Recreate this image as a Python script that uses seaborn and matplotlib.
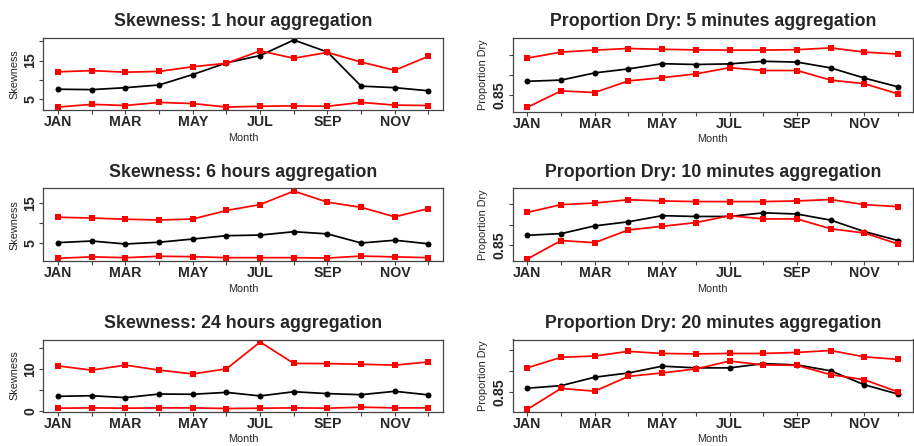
import numpy as np
import pandas as pd
import matplotlib
matplotlib.use("Agg")
import matplotlib.pyplot as plt
import seaborn as sns

sns.set_style("white")
plt.rcParams["font.family"] = ["Liberation Sans", "DejaVu Sans"]

months = ["JAN", "FEB", "MAR", "APR", "MAY", "JUN",
          "JUL", "AUG", "SEP", "OCT", "NOV", "DEC"]
month_num = list(range(1, 13))

# Skewness, 1 hour aggregation
skew_1h_mid = [7.6, 7.5, 8.0, 8.7, 11.4, 14.4, 16.3, 20.3, 17.2, 8.4, 8.0, 7.2]
skew_1h_hi = [12.1, 12.4, 12.0, 12.2, 13.4, 14.3, 17.5, 15.6, 17.1, 14.6, 12.5, 16.1]
skew_1h_lo = [3.0, 3.7, 3.4, 4.2, 3.9, 3.0, 3.2, 3.3, 3.2, 4.2, 3.5, 3.4]

# Skewness, 6 hours aggregation
skew_6h_mid = [5.1, 5.5, 4.75, 5.2, 6.0, 6.85, 7.0, 7.85, 7.3, 5.0, 5.7, 4.8]
skew_6h_hi = [11.5, 11.3, 11.0, 10.8, 11.05, 13.2, 14.7, 18.1, 15.3, 14.0, 11.6, 13.7]
skew_6h_lo = [1.15, 1.5, 1.3, 1.65, 1.55, 1.3, 1.3, 1.3, 1.2, 1.7, 1.5, 1.3]

# Skewness, 24 hours aggregation
skew_24h_mid = [3.46, 3.6, 3.15, 4.0, 3.95, 4.4, 3.55, 4.55, 4.1, 3.85, 4.65, 3.8]
skew_24h_hi = [10.7, 9.7, 10.9, 9.7, 8.8, 10.0, 16.4, 11.3, 11.26, 11.1, 10.9, 11.65]
skew_24h_lo = [0.63, 0.7, 0.63, 0.7, 0.7, 0.55, 0.63, 0.7, 0.63, 0.87, 0.7, 0.7]

# Proportion dry, 5 minutes aggregation
dry_5m_mid = [0.884, 0.887, 0.905, 0.915, 0.928, 0.926, 0.9275, 0.934, 0.932, 0.9175, 0.892, 0.870]
dry_5m_hi = [0.942, 0.957, 0.962, 0.966, 0.964, 0.9625, 0.962, 0.962, 0.963, 0.9675, 0.957, 0.952]
dry_5m_lo = [0.819, 0.860, 0.856, 0.885, 0.893, 0.9025, 0.918, 0.911, 0.911, 0.887, 0.878, 0.8525]

# Proportion dry, 10 minutes aggregation
dry_10m_mid = [0.874, 0.878, 0.897, 0.907, 0.922, 0.920, 0.920, 0.929, 0.926, 0.911, 0.883, 0.861]
dry_10m_hi = [0.930, 0.949, 0.953, 0.961, 0.958, 0.9565, 0.9565, 0.9565, 0.958, 0.9615, 0.949, 0.944]
dry_10m_lo = [0.816, 0.861, 0.856, 0.887, 0.896, 0.905, 0.922, 0.914, 0.914, 0.890, 0.8795, 0.8525]

# Proportion dry, 20 minutes aggregation
dry_20m_mid = [0.860, 0.866, 0.886, 0.896, 0.912, 0.908, 0.908, 0.918, 0.915, 0.901, 0.868, 0.846]
dry_20m_hi = [0.908, 0.933, 0.936, 0.947, 0.942, 0.941, 0.942, 0.942, 0.9445, 0.949, 0.934, 0.928]
dry_20m_lo = [0.810, 0.8595, 0.853, 0.888, 0.896, 0.9055, 0.924, 0.915, 0.914, 0.892, 0.880, 0.851]

skew_ticks = [0, 5, 10, 15, 20]
dry_ticks = [0.85, 0.90, 0.95]

panels = [
    dict(title="Skewness: 1 hour aggregation", ylabel="Skewness",
         series=(skew_1h_mid, skew_1h_hi, skew_1h_lo),
         yticks=skew_ticks, ylabels={5: "5", 15: "15"},
         ylim=(2.24, 20.95), box=(43.3, 37.5, 443.3, 110.0)),
    dict(title="Proportion Dry: 5 minutes aggregation", ylabel="Proportion Dry",
         series=(dry_5m_mid, dry_5m_hi, dry_5m_lo),
         yticks=dry_ticks, ylabels={0.85: "0.85"},
         ylim=(0.8085, 0.9935), box=(512.5, 37.5, 913.0, 111.5)),
    dict(title="Skewness: 6 hours aggregation", ylabel="Skewness",
         series=(skew_6h_mid, skew_6h_hi, skew_6h_lo),
         yticks=skew_ticks, ylabels={5: "5", 15: "15"},
         ylim=(0.46, 18.8), box=(43.3, 188.3, 443.3, 261.0)),
    dict(title="Proportion Dry: 10 minutes aggregation", ylabel="Proportion Dry",
         series=(dry_10m_mid, dry_10m_hi, dry_10m_lo),
         yticks=dry_ticks, ylabels={0.85: "0.85"},
         ylim=(0.811, 0.989), box=(512.5, 188.3, 913.0, 261.0)),
    dict(title="Skewness: 24 hours aggregation", ylabel="Skewness",
         series=(skew_24h_mid, skew_24h_hi, skew_24h_lo),
         yticks=skew_ticks, ylabels={0: "0", 10: "10"},
         ylim=(-0.16, 17.0), box=(43.3, 339.5, 443.3, 411.5)),
    dict(title="Proportion Dry: 20 minutes aggregation", ylabel="Proportion Dry",
         series=(dry_20m_mid, dry_20m_hi, dry_20m_lo),
         yticks=dry_ticks, ylabels={0.85: "0.85"},
         ylim=(0.805, 0.975), box=(512.5, 339.5, 913.0, 411.5)),
]

W, H = 914, 446
fig = plt.figure(figsize=(W / 100, H / 100), dpi=100)

for p in panels:
    x0, y0, x1, y1 = p["box"]
    ax = fig.add_axes([x0 / W, 1 - y1 / H, (x1 - x0) / W, (y1 - y0) / H])
    mid, hi, lo = p["series"]
    df = pd.DataFrame({"month": month_num, "mid": mid, "hi": hi, "lo": lo})
    sns.lineplot(data=df, x="month", y="mid", ax=ax, color="black",
                 marker="o", markersize=4.3, markeredgewidth=0,
                 linewidth=1.25)
    for col in ("hi", "lo"):
        sns.lineplot(data=df, x="month", y=col, ax=ax, color="#ff0000",
                     marker="s", markersize=4.0, markeredgewidth=0,
                     linewidth=1.25)

    ax.set_xlim(0.56, 12.44)
    ax.set_ylim(*p["ylim"])
    ax.set_xticks(month_num)
    ax.set_xticklabels([m if i % 2 == 0 else "" for i, m in enumerate(months)],
                       fontsize=10.2, fontweight="bold")
    yt = [t for t in p["yticks"] if p["ylim"][0] <= t <= p["ylim"][1]]
    ax.set_yticks(yt)
    ax.set_yticklabels([p["ylabels"].get(t, "") for t in yt],
                       fontsize=10.2, fontweight="bold",
                       rotation=90, va="center")
    ax.tick_params(axis="both", direction="out", length=3.2, width=0.8,
                   color="#444444", bottom=True, left=True)
    ax.tick_params(axis="x", pad=0.6)
    ax.tick_params(axis="y", pad=1.2)
    for s in ax.spines.values():
        s.set_color("#444444")
        s.set_linewidth(0.9)
    ax.set_xlabel("Month", fontsize=7.8, labelpad=2.5)
    ax.set_ylabel(p["ylabel"], fontsize=7.8, labelpad=3)
    ax.set_title(p["title"], fontsize=12.8, fontweight="bold", pad=8)

fig.savefig("out.png", dpi=100, facecolor="white")
